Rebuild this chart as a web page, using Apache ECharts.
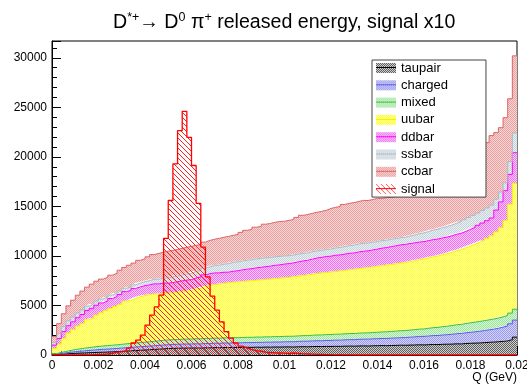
<!DOCTYPE html>
<html><head><meta charset="utf-8">
<script src="https://cdn.jsdelivr.net/npm/echarts@6/dist/echarts.min.js"></script>
<style>html,body{margin:0;padding:0;background:#fff}#c{width:527px;height:391px}</style>
</head><body><div id="c"></div>
<script>
// Histogram binning: 100 bins on Q in [0, 0.02] GeV
const qMin = 0, qMax = 0.02, nBins = 100;
const seriesNames = ['taupair', 'charged', 'mixed', 'uubar', 'ddbar', 'ssbar', 'ccbar', 'signal'];

const taupair = [
  40, 80, 110, 140, 170, 190, 210, 230, 250, 270,
  280, 300, 320, 340, 370, 400, 420, 450, 480, 500,
  530, 560, 590, 620, 650, 670, 680, 690, 700, 700,
  710, 700, 730, 720, 750, 730, 760, 740, 770, 750,
  770, 780, 770, 790, 780, 800, 790, 810, 800, 820,
  820, 810, 830, 840, 830, 850, 860, 850, 870, 860,
  880, 870, 890, 900, 890, 910, 920, 910, 930, 940,
  950, 940, 960, 970, 990, 980, 1000, 1010, 1030, 1020,
  1040, 1060, 1050, 1080, 1090, 1100, 1130, 1120, 1160, 1180,
  1200, 1220, 1250, 1280, 1310, 1340, 1380, 1430, 1550, 1800
];
const charged = [
  50, 80, 110, 140, 170, 190, 210, 230, 250, 270,
  290, 300, 310, 320, 330, 340, 350, 355, 360, 365,
  370, 375, 380, 385, 390, 395, 400, 405, 410, 415,
  420, 425, 430, 435, 440, 445, 450, 455, 460, 465,
  470, 475, 480, 485, 490, 495, 500, 505, 510, 515,
  520, 530, 540, 550, 560, 570, 580, 590, 600, 610,
  620, 630, 640, 650, 660, 670, 680, 690, 700, 710,
  720, 730, 740, 750, 760, 780, 800, 820, 840, 860,
  880, 900, 920, 940, 960, 990, 1020, 1050, 1080, 1110,
  1140, 1180, 1220, 1260, 1300, 1360, 1430, 1500, 1600, 1720
];
const mixed = [
  60, 100, 140, 180, 210, 240, 270, 290, 310, 330,
  340, 350, 360, 370, 380, 390, 400, 410, 420, 430,
  440, 450, 460, 470, 480, 485, 490, 495, 500, 505,
  510, 512, 514, 516, 518, 520, 522, 524, 526, 528,
  530, 532, 534, 536, 538, 540, 542, 544, 546, 548,
  550, 555, 560, 565, 570, 575, 580, 585, 590, 595,
  600, 605, 610, 615, 620, 625, 630, 635, 640, 645,
  660, 670, 680, 690, 700, 710, 720, 730, 740, 750,
  780, 800, 820, 840, 860, 880, 900, 920, 940, 960,
  980, 990, 1000, 1010, 1020, 1030, 1040, 1060, 1080, 1100
];
const uubar = [
  500, 850, 1300, 1750, 2000, 2300, 2500, 2800, 2900, 3150,
  3350, 3520, 3700, 3870, 4030, 4290, 4340, 4485, 4620, 4700,
  4750, 4780, 4720, 4750, 4680, 4720, 4760, 4800, 4830, 4900,
  5000, 5100, 5250, 5340, 5400, 5450, 5500, 5550, 5590, 5620,
  5650, 5680, 5710, 5740, 5770, 5790, 5820, 5850, 5880, 5910,
  5940, 5980, 6020, 6060, 6100, 6150, 6200, 6240, 6270, 6300,
  6330, 6360, 6390, 6420, 6450, 6500, 6540, 6570, 6600, 6640,
  6680, 6710, 6750, 6780, 6820, 6850, 6900, 6950, 7000, 7050,
  7100, 7150, 7200, 7260, 7320, 7400, 7480, 7560, 7650, 7750,
  7860, 7980, 8100, 8230, 8400, 8700, 9000, 9600, 11000, 12700
];
const ddbar = [
  350, 550, 700, 750, 800, 850, 900, 950, 1000, 1000,
  1000, 990, 1010, 1000, 1000, 980, 1000, 1020, 1000, 1010,
  1000, 1020, 1030, 1040, 1050, 1050, 1080, 1100, 1120, 1100,
  1150, 1130, 1170, 1200, 1180, 1150, 1120, 1100, 1110, 1150,
  1180, 1200, 1230, 1250, 1280, 1300, 1330, 1350, 1370, 1390,
  1400, 1430, 1460, 1480, 1510, 1540, 1570, 1600, 1610, 1620,
  1640, 1650, 1660, 1680, 1690, 1700, 1700, 1720, 1740, 1760,
  1780, 1800, 1820, 1840, 1850, 1850, 1830, 1810, 1790, 1770,
  1750, 1740, 1720, 1700, 1680, 1660, 1650, 1640, 1650, 1680,
  1700, 1720, 1750, 1780, 1800, 2200, 2600, 3000, 3000, 3100
];
const ssbar = [
  250, 500, 500, 500, 480, 470, 460, 450, 440, 430,
  400, 380, 360, 350, 350, 340, 350, 360, 380, 400,
  420, 450, 480, 510, 540, 560, 580, 600, 620, 640,
  650, 670, 680, 700, 740, 780, 820, 860, 890, 900,
  900, 890, 900, 910, 900, 890, 870, 860, 840, 820,
  800, 790, 780, 760, 750, 740, 720, 700, 710, 720,
  730, 750, 760, 780, 790, 800, 800, 790, 780, 760,
  750, 740, 740, 730, 720, 720, 760, 800, 840, 880,
  920, 960, 1000, 1030, 1060, 1090, 1120, 1150, 1180, 1200,
  1220, 1240, 1260, 1280, 1300, 1100, 1000, 800, 1300, 2000
];
const ccbar = [
  600, 1000, 1300, 1500, 1700, 1800, 1900, 1900, 2000, 2000,
  2000, 2000, 2000, 2000, 2100, 2100, 2200, 2200, 2300, 2300,
  2400, 2500, 2600, 2600, 2700, 2670, 2660, 2680, 2690, 2710,
  2630, 2610, 2620, 2660, 2660, 2700, 2720, 2740, 2740, 2760,
  2880, 3030, 3050, 3190, 3220, 3390, 3430, 3480, 3530, 3500,
  3560, 3590, 3700, 3850, 3860, 3880, 3900, 3930, 3960, 4090,
  4110, 4130, 4250, 4270, 4290, 4300, 4340, 4280, 4310, 4350,
  4260, 4300, 4210, 4240, 4270, 4320, 4400, 4480, 4560, 4650,
  4740, 4830, 4920, 5020, 5120, 5230, 5340, 5460, 5580, 5710,
  5850, 6050, 6300, 6600, 7020, 6720, 6500, 6570, 6340, 7780
];
const signal = [
  0, 0, 10, 0, 20, 10, 30, 20, 40, 50,
  60, 100, 170, 300, 330, 400, 700, 1210, 1510, 2010,
  3020, 4030, 4860, 6040, 11780, 15600, 19300, 22650, 24600, 21980,
  19130, 15300, 10900, 7880, 5940, 4530, 3350, 2350, 1710, 1210,
  900, 700, 550, 450, 380, 300, 250, 220, 200, 180,
  150, 200, 160, 120, 100, 80, 60, 50, 40, 30,
  20, 30, 10, 20, 0, 10, 0, 0, 10, 0,
  0, 0, 0, 0, 0, 0, 0, 0, 0, 0,
  0, 0, 0, 0, 0, 0, 0, 0, 0, 0,
  0, 0, 0, 0, 0, 0, 0, 0, 0, 0
];
const xTickValues = [0, 0.002, 0.004, 0.006, 0.008, 0.01, 0.012, 0.014, 0.016, 0.018, 0.02];
const yTickValues = [0, 5000, 10000, 15000, 20000, 25000, 30000];

const FONT = 'Liberation Sans, Arial, Helvetica, sans-serif';

function dotCanvas(bg, dot, w, h) {
  const c = document.createElement('canvas'); c.width = w; c.height = h;
  const g = c.getContext('2d');
  g.fillStyle = bg; g.fillRect(0, 0, w, h);
  g.fillStyle = dot;
  for (let y = 0; y < h; y++) for (let x = 0; x < w; x++) if ((x + y) % 2 === 0) g.fillRect(x, y, 1, 1);
  return c;
}
function dotPattern(bg, dot) {
  return { image: dotCanvas(bg, dot, 2, 2), repeat: 'repeat' };
}
function legendPattern(bg, dot, line) {
  const c = dotCanvas(bg, dot, 2, 10);
  const g = c.getContext('2d'); g.fillStyle = line; g.fillRect(0, 4, 2, 1);
  return { image: c, repeat: 'repeat' };
}
function hatchCanvas(color, h) {
  const c = document.createElement('canvas'); c.width = 5; c.height = h;
  const g = c.getContext('2d'); g.fillStyle = color;
  for (let i = 0; i < h; i++) g.fillRect(i % 5, i, 1, 1);
  return c;
}

const styles = {
  taupair: { bg: '#cfcfcf', dot: '#606060', line: '#000000' },
  charged: { bg: '#d4d4fa', dot: '#9a9aee', line: '#5a5ae6' },
  mixed:   { bg: '#d8f6d8', dot: '#9ce49c', line: '#38c038' },
  uubar:   { bg: '#ffffa8', dot: '#ffff30', line: '#f2f200' },
  ddbar:   { bg: '#fbcbfb', dot: '#f070f0', line: '#ff00ff' },
  ssbar:   { bg: '#eaeff2', dot: '#c6d2d9', line: '#aabac4' },
  ccbar:   { bg: '#f8d6d6', dot: '#e8a0a0', line: '#e06464' }
};

// bin edges as categories of a hidden axis aligned with the visible value axis
const edgeLabels = [];
for (let i = 0; i <= nBins; i++) edgeLabels.push((qMin + i * (qMax - qMin) / nBins).toFixed(4));
function histData(vals) {
  return vals.concat([vals[nBins - 1]]);
}

const stackVals = { taupair, charged, mixed, uubar, ddbar, ssbar, ccbar };
const fills = {}, legendFills = {};
const series = [];
['taupair', 'charged', 'mixed', 'uubar', 'ddbar', 'ssbar', 'ccbar'].forEach((name) => {
  const s = styles[name];
  fills[name] = dotPattern(s.bg, s.dot);
  legendFills[name] = legendPattern(s.bg, s.dot, s.line);
  series.push({
    name, type: 'line', stack: 'bkg', step: 'end', data: histData(stackVals[name]),
    xAxisIndex: 1, showSymbol: false, symbol: 'none', silent: true, z: 2,
    lineStyle: { color: s.line, width: 1 },
    itemStyle: { color: s.line },
    areaStyle: { color: fills[name], opacity: 1 }
  });
});
fills.signal = { image: hatchCanvas('#ff2020', 5), repeat: 'repeat' };
(function () {
  const c = hatchCanvas('#ff5050', 10);
  const g = c.getContext('2d'); g.fillStyle = '#ff0000'; g.fillRect(0, 4, 5, 1);
  legendFills.signal = { image: c, repeat: 'repeat' };
})();
series.push({
  name: 'signal', type: 'line', step: 'end', data: histData(signal),
  xAxisIndex: 1, showSymbol: false, symbol: 'none', silent: true, z: 3,
  lineStyle: { color: '#ff0000', width: 1.3 },
  itemStyle: { color: '#ff0000' },
  areaStyle: { color: fills.signal, opacity: 1 }
});

const chart = echarts.init(document.getElementById('c'), null, { renderer: 'canvas' });
chart.setOption({
  animation: false,
  backgroundColor: '#ffffff',
  title: {
    text: '{m|D}{s|*+}{m|→ D}{s|0}{m| π}{s|+}{m| released energy, signal x10}',
    left: 108, top: 6,
    textStyle: {
      fontFamily: FONT, fontWeight: 'normal', color: '#000', fontSize: 19.6,
      rich: {
        m: { fontFamily: FONT, fontSize: 19.6, color: '#000', verticalAlign: 'bottom', lineHeight: 22 },
        s: { fontFamily: FONT, fontSize: 12.5, color: '#000', verticalAlign: 'top', lineHeight: 22 }
      }
    }
  },
  legend: {
    orient: 'vertical', left: 372, top: 60,
    backgroundColor: '#ffffff', borderColor: '#444', borderWidth: 1, borderRadius: 0,
    padding: [1, 38, 1, 4], itemWidth: 20, itemHeight: 10, itemGap: 3.3,
    selectedMode: false, icon: 'rect',
    textStyle: { fontFamily: FONT, fontSize: 13, color: '#000', lineHeight: 14 },
    data: seriesNames.map(n => ({ name: n, icon: 'rect', itemStyle: { color: legendFills[n], borderWidth: 0, opacity: 1 } }))
  },
  grid: { left: 52, right: 10, top: 41, bottom: 36, show: true, borderColor: '#000', borderWidth: 1, backgroundColor: 'transparent', containLabel: false, outerBoundsMode: 'none' },
  xAxis: [{
    type: 'value', min: qMin, max: qMax, interval: 0.002,
    name: 'Q (GeV)', nameLocation: 'end', nameGap: 0, nameMoveOverlap: false,
    nameTextStyle: { fontFamily: FONT, fontSize: 12, color: '#000', align: 'right', verticalAlign: 'top', padding: [17, 0, 0, 0] },
    axisLine: { show: true, lineStyle: { color: '#000', width: 1 } },
    axisTick: { show: true, inside: true, length: 9, lineStyle: { color: '#000' } },
    minorTick: { show: true, splitNumber: 5, length: 5, lineStyle: { color: '#000' } },
    splitLine: { show: false },
    axisLabel: { color: '#000', fontFamily: FONT, fontSize: 12, margin: 5, hideOverlap: false,
      formatter: v => { const r = +v.toFixed(4); return xTickValues.indexOf(r) >= 0 ? String(r) : ''; } }
  }, {
    type: 'category', data: edgeLabels, boundaryGap: false, show: false
  }],
  yAxis: {
    type: 'value', min: 0, max: 31700, interval: 5000,
    axisLine: { show: true, lineStyle: { color: '#000', width: 1 } },
    axisTick: { show: true, inside: true, length: 9, lineStyle: { color: '#000' } },
    minorTick: { show: true, splitNumber: 5, length: 5, lineStyle: { color: '#000' } },
    splitLine: { show: false },
    axisLabel: { color: '#000', fontFamily: FONT, fontSize: 12, margin: 5,
      formatter: v => (yTickValues.indexOf(v) >= 0 ? String(v) : '') }
  },
  series
});
</script></body></html>
